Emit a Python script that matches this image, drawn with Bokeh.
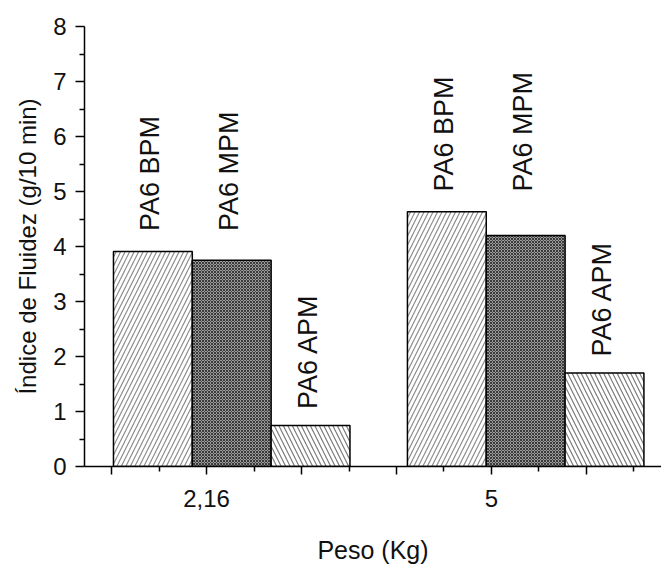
import math
from bokeh.plotting import figure
from bokeh.models import Range1d, FixedTicker, ColumnDataSource
from bokeh.core.properties import value
from bokeh.embed import file_html
from bokeh.resources import INLINE

# ---- data ----
categories = ["2,16", "5"]
series = ["PA6 BPM", "PA6 MPM", "PA6 APM"]
bpm = [3.91, 4.63]
mpm = [3.75, 4.20]
apm = [0.745, 1.70]
y_ticks = [0, 1, 2, 3, 4, 5, 6, 7, 8]

FONT = "Liberation Sans"

# ---- layout constants (x in axis-tick units) ----
group_start = 0.04
group_step = 6.19
bar_w = 1.66

p = figure(width=661, height=567, output_backend="svg", toolbar_location=None,
           x_range=Range1d(-0.57, 11.58), y_range=Range1d(0, 8),
           min_border_top=26, min_border_right=0, min_border_left=84,
           min_border_bottom=101)
p.outline_line_color = None
p.xgrid.visible = False
p.ygrid.visible = False
p.background_fill_color = "white"
p.border_fill_color = "white"

styles = [
    dict(fill_color="white", hatch_pattern="/", hatch_color="#8c8c8c", hatch_scale=9, hatch_weight=1.2),
    dict(fill_color="#9a9a9a", hatch_pattern="x", hatch_color="#3a3a3a", hatch_scale=3, hatch_weight=1.0),
    dict(fill_color="white", hatch_pattern="\\", hatch_color="#7a7a7a", hatch_scale=9, hatch_weight=1.2),
]

values = [bpm, mpm, apm]
for j, vals in enumerate(values):
    xs = [group_start + i * group_step + (j + 0.5) * bar_w for i in range(len(categories))]
    src = ColumnDataSource(dict(x=xs, top=vals))
    p.vbar(x="x", top="top", bottom=0, width=bar_w, source=src,
           line_color="black", line_width=1.5, **styles[j])

# bar labels (rotated)
lx, ly, lt = [], [], []
for i in range(len(categories)):
    top_pair = max(bpm[i], mpm[i])
    for j, vals in enumerate(values):
        x = group_start + i * group_step + (j + 0.5) * bar_w
        if j < 2:
            y = top_pair + 0.37
        else:
            y = vals[i] + 0.30
        lx.append(x); ly.append(y); lt.append(series[j])
p.text(x=lx, y=ly, text=lt, angle=math.pi / 2, text_align="left",
       text_baseline="middle", text_font=value(FONT), text_font_size="27px",
       text_color="#111111", x_offset=-3)

# axes
for ax in (p.xaxis[0], p.yaxis[0]):
    ax.axis_line_color = "black"
    ax.axis_line_width = 1.5
    ax.major_tick_line_color = "black"
    ax.minor_tick_line_color = "black"
    ax.major_tick_line_width = 1.5
    ax.minor_tick_line_width = 1.5
    ax.major_tick_in = 0
    ax.minor_tick_in = 0
    ax.major_label_text_font = FONT
    ax.axis_label_text_font = FONT
    ax.axis_label_text_font_style = "normal"
    ax.major_label_text_color = "#111111"
    ax.axis_label_text_color = "#111111"

yax = p.yaxis[0]
yax.ticker = FixedTicker(ticks=y_ticks, minor_ticks=[t + 0.5 for t in y_ticks[:-1]])
yax.major_tick_out = 9
yax.minor_tick_out = 5
yax.major_label_standoff = 9
yax.major_label_text_font_size = "24px"
yax.axis_label = "Índice de Fluidez (g/10 min)"
yax.axis_label_text_font_size = "24px"
yax.axis_label_standoff = 9

xax = p.xaxis[0]
xax.ticker = FixedTicker(ticks=[0, 2, 4, 6, 8, 10], minor_ticks=[1, 3, 5, 7, 9, 11])
xax.major_label_overrides = {0: "", 2: categories[0], 4: "", 6: "", 8: categories[1], 10: ""}
xax.major_tick_out = 8
xax.minor_tick_out = 5
xax.major_label_standoff = 15
xax.major_label_text_font_size = "24px"
xax.axis_label = "Peso (Kg)"
xax.axis_label_text_font_size = "25px"
xax.axis_label_standoff = 26

open("out.html", "w").write(file_html(p, INLINE))
